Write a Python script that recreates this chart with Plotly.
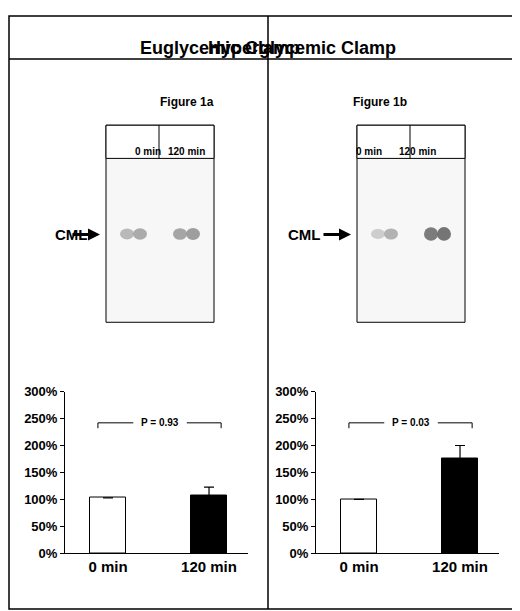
import plotly.graph_objects as go

W, H = 520, 611

# data
panels = ["Euglycemic Clamp", "Hyperglycemic Clamp"]
fig_labels = ["Figure 1a", "Figure 1b"]
categories = ["0 min", "120 min"]
means = [[1.03, 1.08], [1.00, 1.75]]
errors = [[0.0, 0.15], [0.0, 0.25]]
p_values = ["P = 0.93", "P = 0.03"]
y_ticks = [0, 0.5, 1.0, 1.5, 2.0, 2.5, 3.0]
y_tick_text = ["0%", "50%", "100%", "150%", "200%", "250%", "300%"]
# blot band intensity (0..1) for each lane: [left spot, right spot]
band_strength = [[[0.35, 0.45], [0.5, 0.55]], [[0.2, 0.4], [0.8, 0.85]]]

font = "Liberation Sans, Arial, sans-serif"

def px(x):
    return x / W

def py(y):
    return 1 - y / H

fig = go.Figure()
shapes = []
annotations = []

# outer frame, header line, divider
shapes.append(dict(type="rect", xref="paper", yref="paper", x0=px(1), x1=px(519),
                   y0=py(609), y1=py(1), line=dict(color="black", width=1.5)))
shapes.append(dict(type="line", xref="paper", yref="paper", x0=px(1), x1=px(519),
                   y0=py(45), y1=py(45), line=dict(color="black", width=1.5)))
shapes.append(dict(type="line", xref="paper", yref="paper", x0=px(260), x1=px(260),
                   y0=py(1), y1=py(609), line=dict(color="black", width=1.5)))

for i in range(2):
    off = 251 * i
    xa = "x" if i == 0 else "x2"
    ya = "y" if i == 0 else "y2"

    annotations.append(dict(text="<b>%s</b>" % panels[i], xref="paper", yref="paper",
                            x=px(130 + 260 * i), y=py(22), showarrow=False,
                            font=dict(size=18, family=font, color="black")))
    annotations.append(dict(text="<b>%s</b>" % fig_labels[i], xref="paper", yref="paper",
                            x=px(150 + off), y=py(80), showarrow=False,
                            font=dict(size=12, family=font, color="black")))

    # blot box
    bx0, bx1, bmid = 98 + off, 206 + off, 151 + off
    shapes.append(dict(type="rect", xref="paper", yref="paper", x0=px(bx0), x1=px(bx1),
                       y0=py(315), y1=py(113), line=dict(color="black", width=1),
                       fillcolor="#f7f7f7"))
    shapes.append(dict(type="rect", xref="paper", yref="paper", x0=px(bx0), x1=px(bx1),
                       y0=py(147), y1=py(113), line=dict(color="black", width=1),
                       fillcolor="white"))
    shapes.append(dict(type="line", xref="paper", yref="paper", x0=px(bmid), x1=px(bmid),
                       y0=py(147), y1=py(113), line=dict(color="black", width=1)))
    for k, lab in enumerate(categories):
        annotations.append(dict(text="<b>%s</b>" % lab, xref="paper", yref="paper",
                                x=px((bx0 + bmid) / 2 if k == 0 else (bmid + bx1) / 2),
                                y=py(132), showarrow=False,
                                font=dict(size=10, family=font, color="black")))
    # bands
    for k in range(2):
        lx = bx0 + 27 + 53 * k
        for j, s in enumerate(band_strength[i][k]):
            g = int(230 - 150 * s)
            shapes.append(dict(type="circle", xref="paper", yref="paper",
                               x0=px(lx - 13 + 13 * j), x1=px(lx + 1 + 13 * j),
                               y0=py(229 + 3 * s), y1=py(220 - 3 * s),
                               line=dict(width=0),
                               fillcolor="rgb(%d,%d,%d)" % (g, g, g), opacity=0.9))
    annotations.append(dict(text="<b>CML</b>", xref="paper", yref="paper",
                            x=px(bx0 - 53), y=py(225), showarrow=False,
                            font=dict(size=15, family=font, color="black")))
    annotations.append(dict(text="", xref="paper", yref="paper",
                            x=px(bx0 - 6), y=py(225), showarrow=True, ax=-29, ay=0,
                            arrowhead=2, arrowsize=0.8, arrowwidth=3, arrowcolor="black",
                            standoff=0))

    # bar chart
    fig.add_trace(go.Bar(x=[0, 1], y=means[i], width=0.36,
                         marker=dict(color=["white", "black"], line=dict(color="black", width=1)),
                         error_y=dict(type="data", array=errors[i], visible=True,
                                      color="black", thickness=1.2, width=5),
                         xaxis=xa, yaxis=ya, showlegend=False))
    dom = [px(57 + off), px(240 + off)]
    fig.layout["xaxis" + ("" if i == 0 else "2")] = dict(
        domain=dom, range=[-0.426, 1.386], anchor=ya, tickvals=[0, 1],
        ticktext=["<b>%s</b>" % c for c in categories], showline=True, linecolor="black",
        ticks="", tickfont=dict(size=15, family=font, color="black"), showgrid=False,
        zeroline=False, fixedrange=True)
    fig.layout["yaxis" + ("" if i == 0 else "2")] = dict(
        domain=[py(552), py(386)], range=[0, 3], anchor=xa, tickvals=y_ticks,
        ticktext=["<b>%s</b>" % t for t in y_tick_text], showline=True, linecolor="black",
        ticks="outside", ticklen=4, tickcolor="black", showgrid=False, zeroline=False,
        tickfont=dict(size=13, family=font, color="black"))

    # mid tick on x axis
    shapes.append(dict(type="line", xref=xa, yref=ya, x0=0.5, x1=0.5, y0=0, y1=-0.07,
                       line=dict(color="black", width=1)))
    # p-value bracket
    for seg in [(-0.1, 0.25), (0.78, 1.12)]:
        shapes.append(dict(type="line", xref=xa, yref=ya, x0=seg[0], x1=seg[1],
                           y0=2.42, y1=2.42, line=dict(color="black", width=1)))
    for xe in [-0.1, 1.12]:
        shapes.append(dict(type="line", xref=xa, yref=ya, x0=xe, x1=xe,
                           y0=2.42, y1=2.32, line=dict(color="black", width=1)))
    annotations.append(dict(text="<b>%s</b>" % p_values[i], xref=xa, yref=ya, x=0.51, y=2.42,
                            showarrow=False, font=dict(size=10, family=font, color="black")))

fig.update_layout(width=W, height=H, margin=dict(l=0, r=0, t=0, b=0),
                  paper_bgcolor="white", plot_bgcolor="white",
                  shapes=shapes, annotations=annotations, bargap=0)
fig.write_html("out.html")
